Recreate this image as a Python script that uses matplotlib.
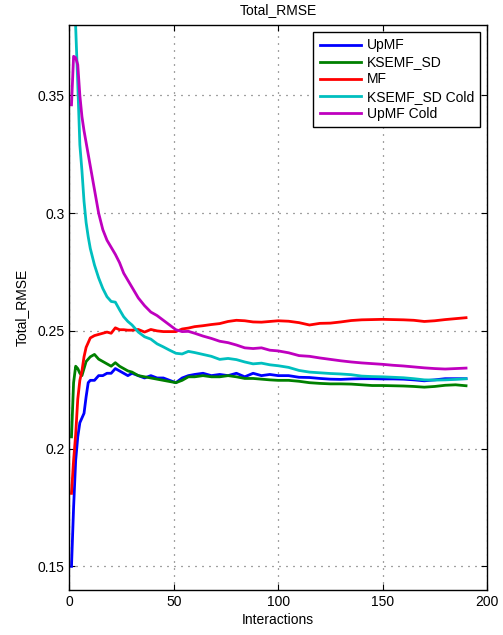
import matplotlib
matplotlib.use('Agg')
import matplotlib.pyplot as plt
from matplotlib.ticker import FuncFormatter

plt.rcParams['font.family'] = ['Liberation Sans', 'DejaVu Sans']
plt.rcParams['font.size'] = 10

interactions = [1, 2, 3, 4, 5, 6, 7, 8, 9, 10, 12, 14, 16, 18, 20, 22, 24, 26, 28, 30,
                33, 36, 39, 42, 45, 48, 51, 54, 57, 60, 64, 68, 72, 76, 80, 84, 88, 92, 96, 100,
                105, 110, 115, 120, 125, 130, 135, 140, 145, 150, 155, 160, 165, 170, 175, 180, 185, 190]

upmf = [0.150, 0.175, 0.195, 0.205, 0.211, 0.213, 0.215, 0.222, 0.228, 0.229, 0.229, 0.231, 0.231, 0.232, 0.232, 0.234, 0.233, 0.232, 0.231, 0.232,
        0.231, 0.230, 0.231, 0.230, 0.230, 0.229, 0.228, 0.230, 0.231, 0.2315, 0.232, 0.231, 0.2315, 0.231, 0.232, 0.2305, 0.232, 0.231, 0.2315, 0.231,
        0.231, 0.2303, 0.2302, 0.2298, 0.2295, 0.2294, 0.2296, 0.2297, 0.2297, 0.2296, 0.2296, 0.2295, 0.2292, 0.2288, 0.2292, 0.2297, 0.2297, 0.2297]

ksemf_sd = [0.205, 0.228, 0.235, 0.234, 0.232, 0.231, 0.234, 0.237, 0.238, 0.239, 0.240, 0.238, 0.237, 0.236, 0.235, 0.2365, 0.235, 0.234, 0.233, 0.2325,
            0.231, 0.2305, 0.230, 0.2295, 0.229, 0.2285, 0.228, 0.229, 0.2305, 0.2305, 0.231, 0.2305, 0.2305, 0.231, 0.2305, 0.2298, 0.2298, 0.2295, 0.2292, 0.229,
            0.229, 0.2286, 0.228, 0.2277, 0.2275, 0.2275, 0.2274, 0.2271, 0.2268, 0.2268, 0.2267, 0.2266, 0.2264, 0.2261, 0.2264, 0.2269, 0.2271, 0.2267]

mf = [0.181, 0.195, 0.206, 0.221, 0.229, 0.233, 0.239, 0.243, 0.245, 0.247, 0.248, 0.2485, 0.249, 0.2495, 0.249, 0.2513, 0.2505, 0.2505, 0.2503, 0.2503,
      0.2506, 0.2495, 0.2506, 0.2500, 0.2497, 0.2497, 0.2497, 0.2508, 0.2512, 0.2518, 0.2522, 0.2527, 0.2531, 0.2540, 0.2545, 0.2543, 0.2538, 0.2537, 0.2540, 0.2543,
      0.2541, 0.2535, 0.2525, 0.2532, 0.2533, 0.2538, 0.2544, 0.2547, 0.2548, 0.2549, 0.2548, 0.2547, 0.2545, 0.2540, 0.2543, 0.2548, 0.2552, 0.2556]

ksemf_sd_cold = [0.450, 0.410, 0.379, 0.355, 0.329, 0.318, 0.305, 0.296, 0.290, 0.285, 0.278, 0.2725, 0.268, 0.2645, 0.2625, 0.2622, 0.259, 0.256, 0.254, 0.2525,
                 0.2495, 0.2475, 0.2465, 0.2445, 0.2432, 0.2418, 0.2405, 0.2402, 0.2413, 0.2408, 0.240, 0.2392, 0.2379, 0.2383, 0.2378, 0.2368, 0.2360, 0.2363, 0.2356, 0.2352,
                 0.2345, 0.2332, 0.2325, 0.2322, 0.2319, 0.2317, 0.2314, 0.2308, 0.2306, 0.2305, 0.2303, 0.2301, 0.2297, 0.2292, 0.2291, 0.2292, 0.2294, 0.2297]

upmf_cold = [0.346, 0.3666, 0.366, 0.363, 0.350, 0.341, 0.335, 0.330, 0.325, 0.320, 0.310, 0.300, 0.293, 0.2885, 0.2855, 0.2825, 0.279, 0.2745, 0.2715, 0.2685,
             0.264, 0.2607, 0.258, 0.2565, 0.2545, 0.2525, 0.2505, 0.2497, 0.2498, 0.249, 0.2478, 0.2468, 0.2456, 0.2450, 0.2440, 0.2428, 0.2425, 0.2428, 0.2418, 0.2415,
             0.2407, 0.2395, 0.2392, 0.2385, 0.2379, 0.2373, 0.2368, 0.2364, 0.2361, 0.2358, 0.2354, 0.2351, 0.2347, 0.2343, 0.2340, 0.2338, 0.2340, 0.2342]

series = [
    (upmf, 'UpMF', (0, 0, 1)),
    (ksemf_sd, 'KSEMF_SD', (0, 0.5, 0)),
    (mf, 'MF', (1, 0, 0)),
    (ksemf_sd_cold, 'KSEMF_SD Cold', (0, 0.75, 0.75)),
    (upmf_cold, 'UpMF Cold', (0.75, 0, 0.75)),
]

fig = plt.figure(figsize=(5.03, 6.35), dpi=100)
ax = fig.add_axes([0.138, 0.071, 0.830, 0.890])

for values, label, color in series:
    ax.plot(interactions, values, color=color, linewidth=2, label=label)

ax.set_xlim(0, 200)
ax.set_ylim(0.14, 0.38)
ax.set_xticks([0, 50, 100, 150, 200])
ax.set_yticks([0.15, 0.2, 0.25, 0.3, 0.35])
ax.yaxis.set_major_formatter(FuncFormatter(lambda v, p: f'{v:g}'))
ax.tick_params(direction='in', length=4, top=True, right=True, width=0.8)
ax.grid(True, linestyle=(0, (0.8, 4.8)), color='#444444', linewidth=0.9)
for s in ax.spines.values():
    s.set_linewidth(1.0)

ax.set_title('Total_RMSE', fontsize=10, pad=8)
ax.set_xlabel('Interactions', fontsize=10, labelpad=3)
ax.set_ylabel('Total_RMSE', fontsize=10, labelpad=6)

leg = ax.legend(loc='upper right', bbox_to_anchor=(0.984, 0.987), fancybox=False,
                edgecolor='black', framealpha=1, fontsize=10, handlelength=3.0,
                labelspacing=0.22, borderpad=0.45, handletextpad=0.4, borderaxespad=0)
leg.get_frame().set_linewidth(1.0)

fig.savefig('out.png', dpi=100)
